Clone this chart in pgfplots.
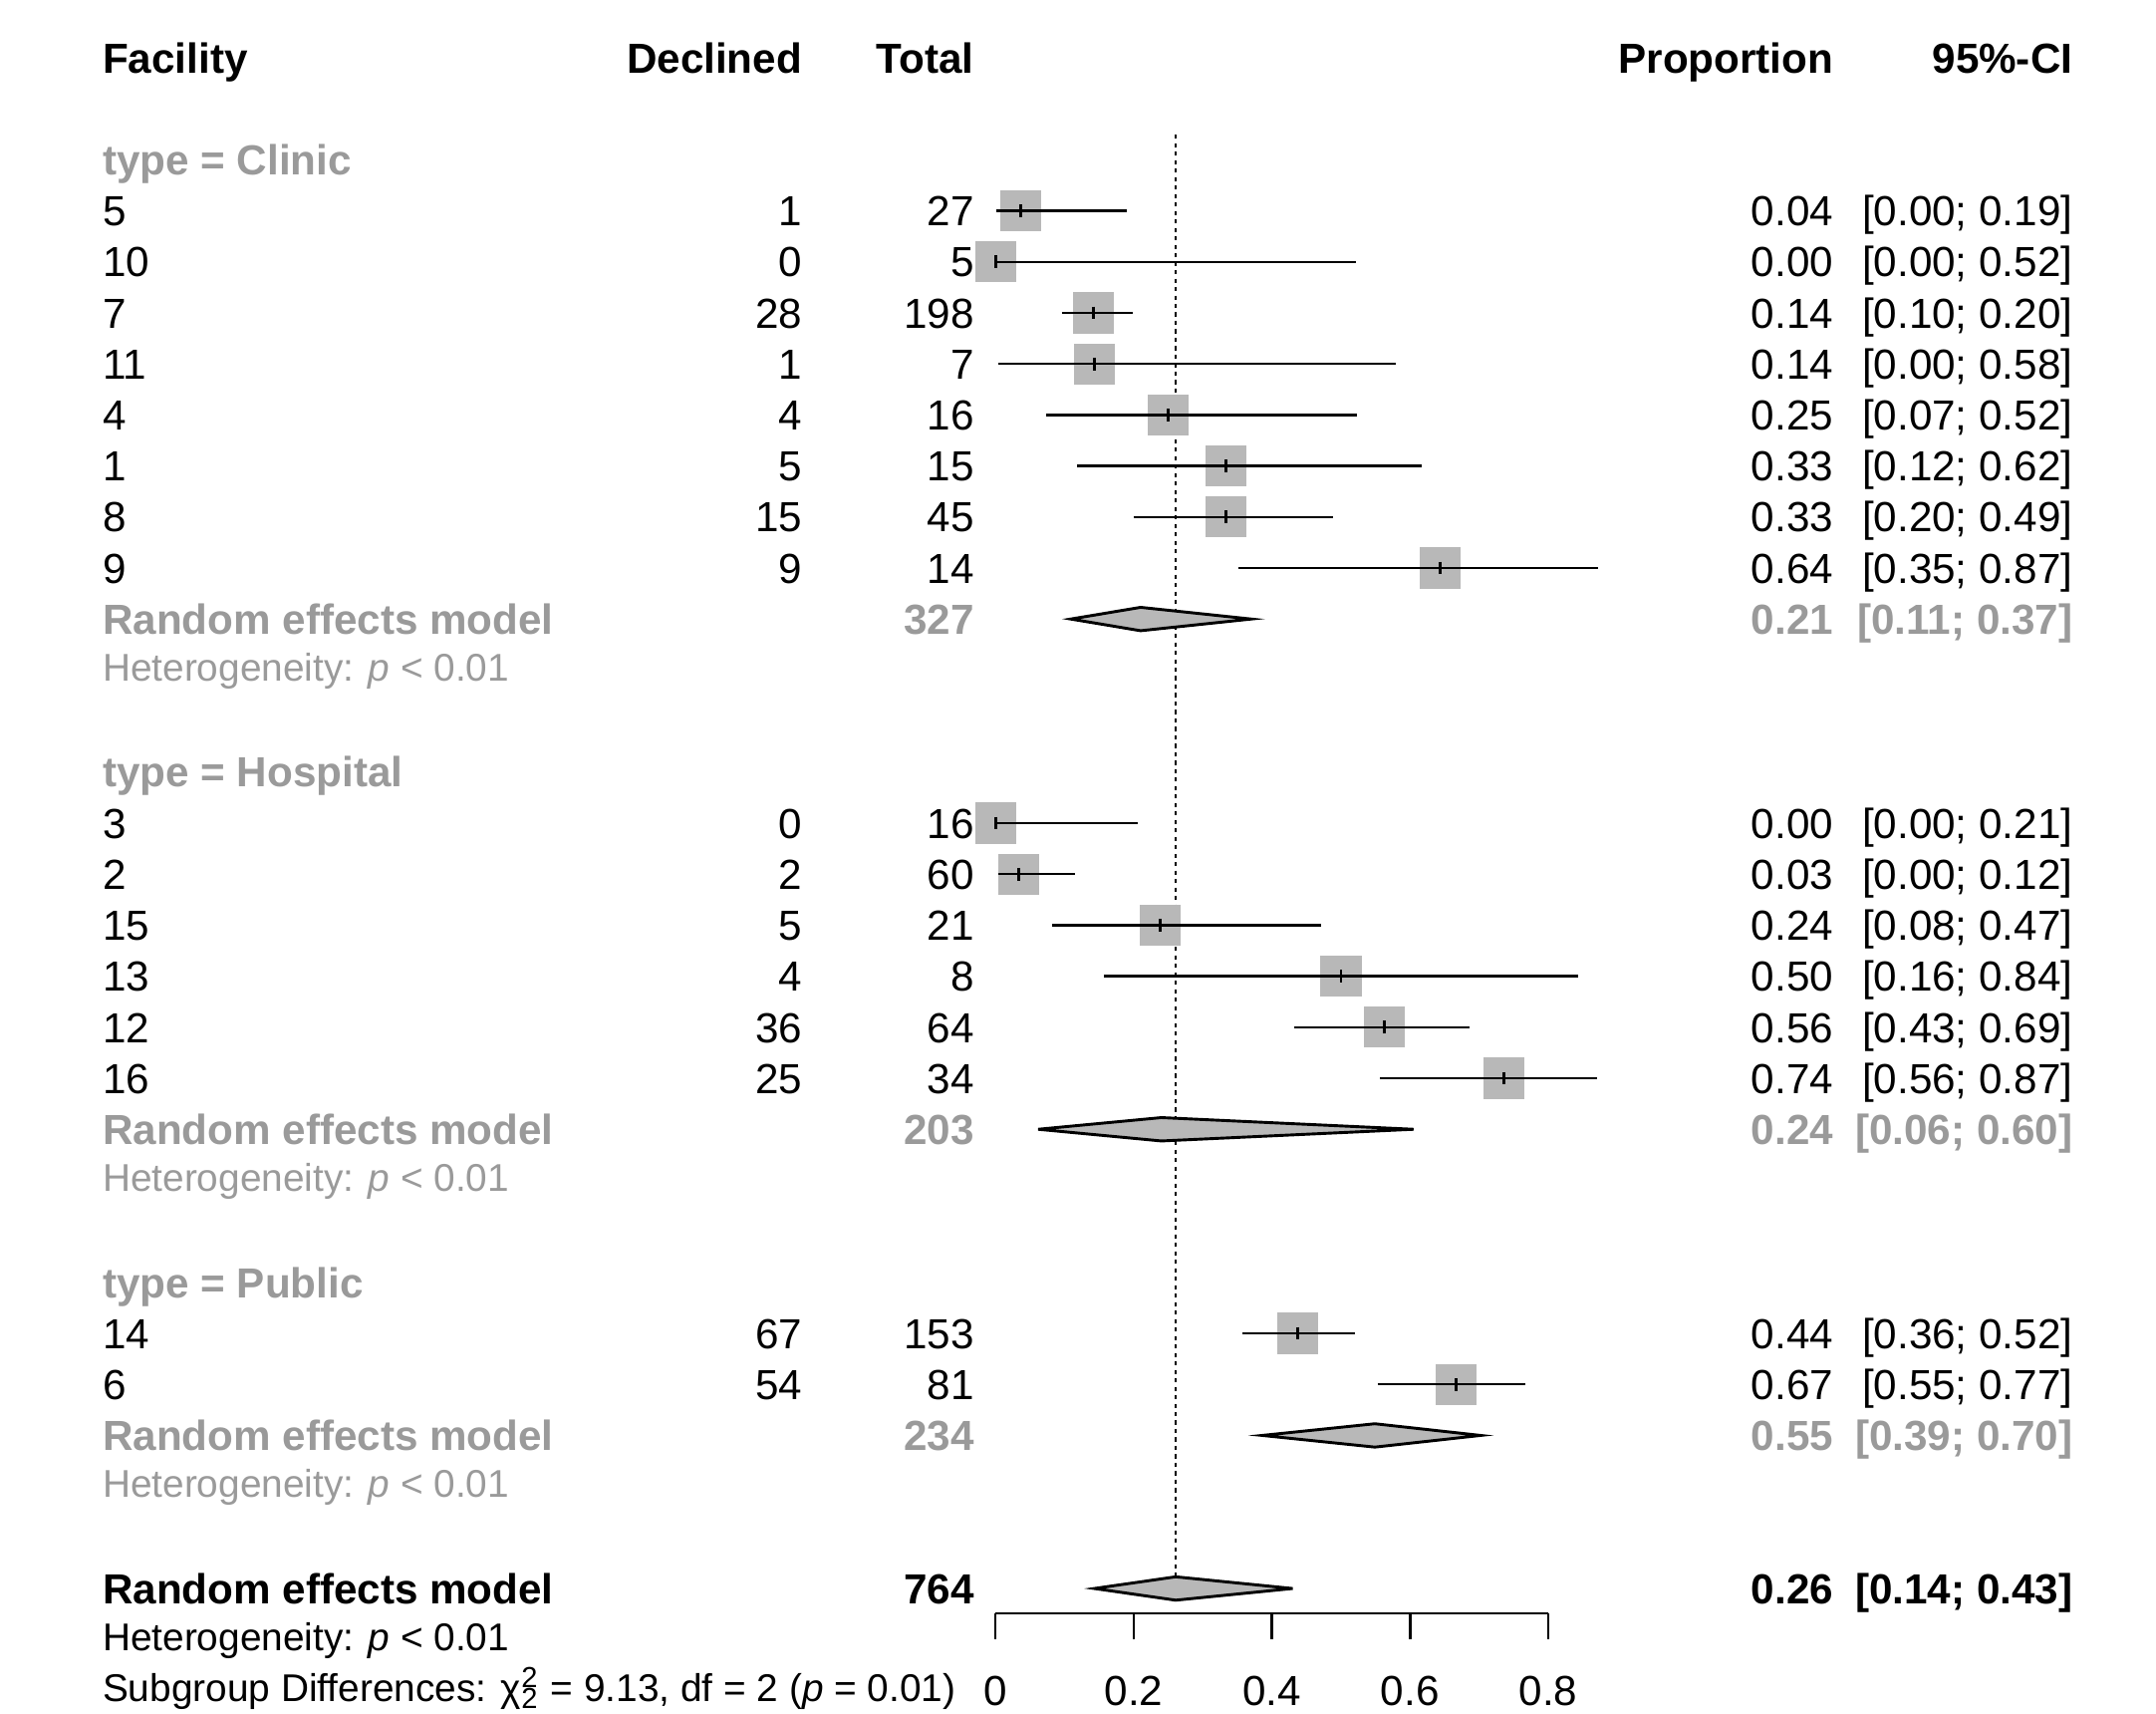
\documentclass[border=0pt]{standalone}
\usepackage{fontspec}
\setmainfont{Liberation Sans}
\usepackage{pgfplots}
\pgfplotsset{compat=1.18}
\usepackage{pgfplotstable}
\definecolor{txtgray}{HTML}{9A9A9A}
\definecolor{sqgray}{HTML}{B8B8B8}
\newcommand\cA{-1.29353}
\newcommand\cB{-0.27861}
\newcommand\cC{-0.02985}
\newcommand\cD{1.21393}
\newcommand\cE{1.56020}
\newcommand{\tL}[3]{\node[anchor=base west,yshift=-0.11cm,inner sep=0pt] at (axis cs:#1,#2) {#3};}
\newcommand{\tR}[3]{\node[anchor=base east,yshift=-0.11cm,inner sep=0pt] at (axis cs:#1,#2) {#3};}
\newcommand{\hL}[2]{\node[anchor=base west,yshift=-0.078cm,inner sep=0pt,font=\fontsize{8}{9.6}\selectfont] at (axis cs:\cA,#1) {#2};}
\newcommand{\srow}[6]{\tL{\cA}{#1}{#2}\tR{\cB}{#1}{#3}\tR{\cC}{#1}{#4}\tR{\cD}{#1}{#5}\tR{\cE}{#1}{#6}}
\newcommand{\g}[1]{\textcolor{txtgray}{\textbf{#1}}}

% study estimates (proportion) by row
\pgfplotstableread{
row est
3 0.0370
4 0.0000
5 0.1414
6 0.1429
7 0.2500
8 0.3333
9 0.3333
10 0.6429
15 0.0000
16 0.0333
17 0.2381
18 0.5000
19 0.5625
20 0.7353
25 0.4379
26 0.6667
}\studies

% 95% CI end points by row
\pgfplotstableread{
row x
3 0.0009
3 0.1897
nan nan
4 0.0000
4 0.5218
nan nan
5 0.0958
5 0.1983
nan nan
6 0.0036
6 0.5787
nan nan
7 0.0727
7 0.5238
nan nan
8 0.1182
8 0.6162
nan nan
9 0.2000
9 0.4889
nan nan
10 0.3514
10 0.8724
nan nan
15 0.0000
15 0.2059
nan nan
16 0.0041
16 0.1153
nan nan
17 0.0822
17 0.4717
nan nan
18 0.1570
18 0.8430
nan nan
19 0.4328
19 0.6861
nan nan
20 0.5564
20 0.8712
nan nan
25 0.3580
25 0.5204
nan nan
26 0.5532
26 0.7674
}\cis

\begin{document}
\fontsize{8.7}{10.4}\selectfont
\begin{tikzpicture}
\begin{axis}[name=main, scale only axis, width=15.68cm, height=12.46cm,
  xmin=-1.44080, xmax=1.67960, ymin=-1.1321, ymax=32.4528, y dir=reverse,
  axis lines=none, clip=false, clip marker paths=true]
% reference line at overall estimate
\addplot[black, mark=none, line width=0.45pt, dash pattern=on 0.85pt off 0.9pt] coordinates {(0.2607,1.509) (0.2607,29.771)};
% study squares
\addplot[sqgray, only marks, mark=square*, mark size=0.142cm] table[x=est,y=row]{\studies};
% confidence intervals
\addplot[black, mark=none, line width=0.5pt, unbounded coords=jump] table[x=x,y=row]{\cis};
% point ticks
\addplot[black, only marks, mark=|, mark size=0.046cm, mark options={black, line width=0.6pt}] table[x=est,y=row]{\studies};
% diamonds
\addplot[fill=sqgray, draw=black, mark=none, line width=0.6pt] coordinates {(0.109,11) (0.210,10.771) (0.370,11) (0.210,11.229)} -- cycle;
\addplot[fill=sqgray, draw=black, mark=none, line width=0.6pt] coordinates {(0.0617,21) (0.24,20.771) (0.605,21) (0.24,21.229)} -- cycle;
\addplot[fill=sqgray, draw=black, mark=none, line width=0.6pt] coordinates {(0.386,27) (0.549,26.771) (0.702,27) (0.549,27.229)} -- cycle;
\addplot[fill=sqgray, draw=black, mark=none, line width=0.6pt] coordinates {(0.143,30) (0.2607,29.771) (0.430,30) (0.2607,30.229)} -- cycle;
\coordinate (ax0) at (axis cs:0,30.485);
% header
\tL{\cA}{0}{\textbf{Facility}}\tR{\cB}{0}{\textbf{Declined}}\tR{\cC}{0}{\textbf{Total}}\tR{\cD}{0}{\textbf{Proportion}}\tR{\cE}{0}{\textbf{95\%-CI}}
% Clinic
\tL{\cA}{2}{\g{type = Clinic}}
\srow{3}{5}{1}{27}{0.04}{[0.00; 0.19]}
\srow{4}{10}{0}{5}{0.00}{[0.00; 0.52]}
\srow{5}{7}{28}{198}{0.14}{[0.10; 0.20]}
\srow{6}{11}{1}{7}{0.14}{[0.00; 0.58]}
\srow{7}{4}{4}{16}{0.25}{[0.07; 0.52]}
\srow{8}{1}{5}{15}{0.33}{[0.12; 0.62]}
\srow{9}{8}{15}{45}{0.33}{[0.20; 0.49]}
\srow{10}{9}{9}{14}{0.64}{[0.35; 0.87]}
\tL{\cA}{11}{\g{Random effects model}}\tR{\cC}{11}{\g{327}}\tR{\cD}{11}{\g{0.21}}\tR{\cE}{11}{\g{[0.11; 0.37]}}
\hL{12}{\textcolor{txtgray}{Heterogeneity: \textit{p} < 0.01}}
% Hospital
\tL{\cA}{14}{\g{type = Hospital}}
\srow{15}{3}{0}{16}{0.00}{[0.00; 0.21]}
\srow{16}{2}{2}{60}{0.03}{[0.00; 0.12]}
\srow{17}{15}{5}{21}{0.24}{[0.08; 0.47]}
\srow{18}{13}{4}{8}{0.50}{[0.16; 0.84]}
\srow{19}{12}{36}{64}{0.56}{[0.43; 0.69]}
\srow{20}{16}{25}{34}{0.74}{[0.56; 0.87]}
\tL{\cA}{21}{\g{Random effects model}}\tR{\cC}{21}{\g{203}}\tR{\cD}{21}{\g{0.24}}\tR{\cE}{21}{\g{[0.06; 0.60]}}
\hL{22}{\textcolor{txtgray}{Heterogeneity: \textit{p} < 0.01}}
% Public
\tL{\cA}{24}{\g{type = Public}}
\srow{25}{14}{67}{153}{0.44}{[0.36; 0.52]}
\srow{26}{6}{54}{81}{0.67}{[0.55; 0.77]}
\tL{\cA}{27}{\g{Random effects model}}\tR{\cC}{27}{\g{234}}\tR{\cD}{27}{\g{0.55}}\tR{\cE}{27}{\g{[0.39; 0.70]}}
\hL{28}{\textcolor{txtgray}{Heterogeneity: \textit{p} < 0.01}}
% Overall
\tL{\cA}{30}{\textbf{Random effects model}}\tR{\cC}{30}{\textbf{764}}\tR{\cD}{30}{\textbf{0.26}}\tR{\cE}{30}{\textbf{[0.14; 0.43]}}
\hL{31}{Heterogeneity: \textit{p} < 0.01}
\hL{32}{Subgroup Differences: χ\rlap{\textsuperscript{2}}\textsubscript{2} = 9.13, df = 2 (\textit{p} = 0.01)}
\end{axis}
\begin{axis}[at={(ax0)}, anchor=south west, scale only axis, width=4.02cm, height=0.3cm,
  xmin=0, xmax=0.8, ymin=0, ymax=1,
  axis x line=bottom, axis y line=none, x axis line style={-, line width=0.5pt},
  xtick={0,0.2,0.4,0.6,0.8}, xticklabels={0,0.2,0.4,0.6,0.8},
  tick align=outside, major tick length=0.19cm, xtick style={black, line width=0.5pt},
  xticklabel style={yshift=-0.16cm}]
\end{axis}
\pgfresetboundingbox
\path (main.south west) rectangle (main.north east);
\end{tikzpicture}
\end{document}
